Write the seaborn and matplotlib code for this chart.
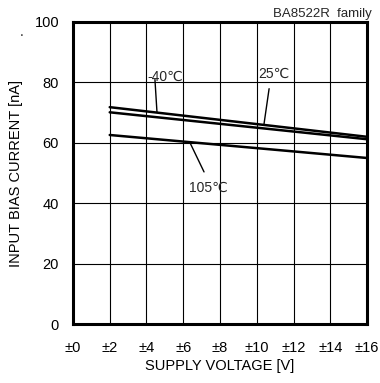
import matplotlib
matplotlib.use("Agg")
import matplotlib.pyplot as plt
import seaborn as sns
import pandas as pd

# DATA
supply_v = [2, 16]
temp_labels = ["-40℃", "25℃", "105℃"]
bias_m40 = [71.8, 62.0]
bias_25 = [70.1, 61.2]
bias_105 = [62.6, 55.0]
x_ticks = [0, 2, 4, 6, 8, 10, 12, 14, 16]
x_tick_labels = ["±0", "±2", "±4", "±6", "±8", "±10", "±12", "±14", "±16"]
y_ticks = [0, 20, 40, 60, 80, 100]

sns.set_theme(style="white")
plt.rcParams['font.family'] = ['Liberation Sans', 'DejaVu Sans']

df = pd.DataFrame({
    "v": supply_v * 3,
    "ib": bias_m40 + bias_25 + bias_105,
    "temp": [t for t in temp_labels for _ in supply_v],
})

fig = plt.figure(figsize=(3.8, 3.83), dpi=100)
ax = fig.add_axes([0.192, 0.153, 0.774, 0.790])

sns.lineplot(data=df, x="v", y="ib", units="temp", estimator=None,
             color="black", linewidth=1.8, ax=ax, legend=False)

ax.set_xlim(0, 16)
ax.set_ylim(0, 100)
ax.set_xticks(x_ticks)
ax.set_xticklabels(x_tick_labels)
ax.set_yticks(y_ticks)
ax.grid(True, color="black", linewidth=0.8)
ax.tick_params(axis="both", direction="in", length=3, width=1.5, colors="black",
               labelsize=10.5)
ax.tick_params(axis="x", pad=12)
ax.tick_params(axis="y", pad=10)
for s in ax.spines.values():
    s.set_color("black")
    s.set_linewidth(2.2)

ax.set_xlabel("SUPPLY VOLTAGE [V]", fontsize=10.5, color="black", labelpad=3)
ax.set_ylabel("INPUT BIAS CURRENT [nA]", fontsize=10.5, color="black", labelpad=8)

# temperature labels with leader lines
lead = dict(color="black", linewidth=1.0)
ax.plot([4.46, 4.57], [80.9, 70.2], **lead)
ax.text(4.05, 80.6, temp_labels[0], fontsize=10, ha="left", va="baseline")
ax.plot([10.67, 10.39], [77.9, 66.1], **lead)
ax.text(10.95, 81.6, temp_labels[1], fontsize=10, ha="center", va="baseline")
ax.plot([6.37, 7.13], [60.0, 50.4], **lead)
ax.text(7.35, 43.9, temp_labels[2], fontsize=10, ha="center", va="baseline")

fig.text(0.978, 0.956, "BA8522R  family", fontsize=9.5, ha="right", va="baseline")
fig.text(0.058, 0.905, ".", fontsize=10, ha="center")

fig.savefig("out.png", dpi=100)
